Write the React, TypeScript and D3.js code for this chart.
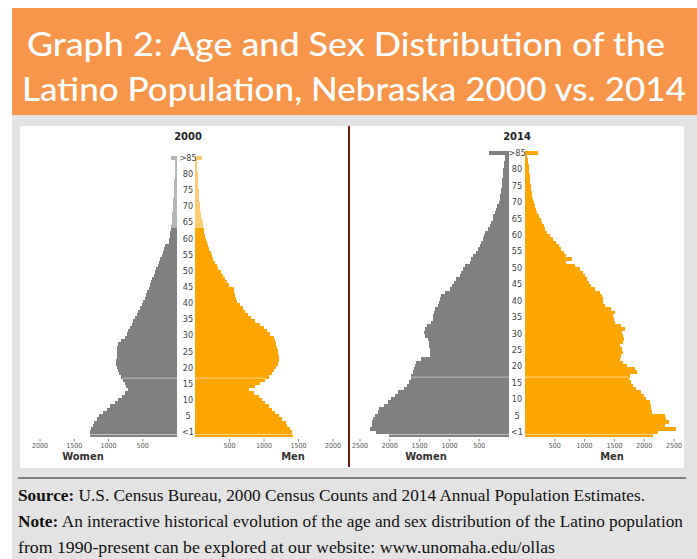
import React from "react";
import * as d3 from "d3";

const AGES = d3.range(0, 86);
const AGE_LABELS = ["<1", "5", "10", "15", "20", "25", "30", "35", "40", "45", "50", "55", "60", "65", "70", "75", "80", ">85"];

const WOMEN_2000 = [
  1275, 1268, 1258, 1230, 1205, 1170, 1142, 1083, 1025, 977,
  904, 855, 807, 758, 710, 744, 758, 792, 821, 846,
  865, 880, 885, 885, 880, 880, 880, 875, 855, 821,
  758, 733, 710, 685, 661, 637, 612, 588, 564, 540,
  515, 491, 472, 453, 434, 415, 396, 377, 358, 339,
  320, 300, 282, 263, 244, 225, 206, 188, 170, 120,
  110, 103, 97, 92, 82, 78, 74, 70, 67, 64,
  60, 57, 54, 51, 48, 45, 43, 41, 38, 35,
  32, 30, 28, 26, 24, 92,
];
const MEN_2000 = [
  1420, 1410, 1375, 1337, 1312, 1264, 1215, 1166, 1118, 1069,
  1020, 972, 923, 860, 778, 875, 948, 1020, 1069, 1118,
  1152, 1181, 1200, 1215, 1215, 1205, 1200, 1191, 1181, 1166,
  1152, 1094, 1045, 996, 938, 875, 812, 763, 729, 695,
  646, 608, 600, 580, 566, 559, 486, 462, 437, 404,
  375, 340, 316, 292, 267, 248, 228, 209, 190, 170,
  156, 146, 136, 126, 121, 112, 97, 90, 84, 78,
  72, 66, 62, 58, 55, 52, 49, 46, 43, 40,
  37, 34, 31, 28, 25, 97,
];
const WOMEN_2014 = [
  2019, 2226, 2338, 2299, 2299, 2282, 2243, 2198, 2187, 2098,
  2030, 1985, 1918, 1863, 1762, 1706, 1683, 1650, 1650, 1611,
  1594, 1583, 1555, 1482, 1331, 1331, 1331, 1342, 1342, 1359,
  1415, 1426, 1404, 1371, 1303, 1275, 1275, 1258, 1236, 1191,
  1180, 1163, 1135, 1079, 995, 956, 923, 884, 827, 800,
  772, 744, 660, 643, 604, 548, 520, 492, 464, 436,
  420, 397, 352, 324, 297, 268, 268, 240, 213, 196,
  173, 157, 146, 140, 129, 123, 117, 112, 106, 101,
  95, 90, 84, 73, 62, 341,
];
const MEN_2014 = [
  2148, 2232, 2539, 2354, 2411, 2371, 2354, 2131, 2120, 2109,
  2092, 2036, 1997, 1941, 1868, 1812, 1773, 1740, 1757, 1885,
  1851, 1717, 1645, 1589, 1606, 1645, 1628, 1589, 1645, 1656,
  1645, 1628, 1673, 1606, 1505, 1493, 1477, 1505, 1448, 1337,
  1309, 1309, 1292, 1253, 1169, 1113, 1069, 1046, 1012, 973,
  917, 833, 693, 789, 693, 654, 609, 565, 526, 470,
  414, 375, 341, 319, 291, 263, 229, 207, 190, 162,
  145, 134, 123, 117, 106, 95, 90, 84, 78, 73,
  67, 62, 56, 50, 39, 218,
];

const TICKS_2000 = [500, 1000, 1500, 2000];
const TICKS_2014 = [500, 1000, 1500, 2000, 2500];

const GRAY = "#808080";
const ORANGE = "#ffa500";
const GRAY_LIGHT = "#b5b5b5";
const ORANGE_LIGHT = "#ffcb70";
const NARROW = "'Liberation Sans Narrow', 'DejaVu Sans Condensed', 'Roboto Condensed', sans-serif";

interface PyramidProps {
  title: string;
  women: number[];
  men: number[];
  ticks: number[];
  max: number;
  cx: number;
  womenZero: number;
  womenMax: number;
  menZero: number;
  menMax: number;
  top: number;
  bottom: number;
  fadeFrom?: number;
  womenLabelX: number;
  menLabelX: number;
}

const Pyramid = (p: PyramidProps) => {
  const y = d3.scaleBand<number>().domain([...AGES].reverse()).range([p.top, p.bottom]).padding(0);
  const xw = d3.scaleLinear().domain([0, p.max]).range([p.womenZero, p.womenMax]);
  const xm = d3.scaleLinear().domain([0, p.max]).range([p.menZero, p.menMax]);
  const bw = y.bandwidth();
  const labelY = d3.scaleLinear()
    .domain([0, AGE_LABELS.length - 1])
    .range([y(1)! + bw / 2, y(85)! + bw / 2]);
  const fade = (a: number) => p.fadeFrom !== undefined && a >= p.fadeFrom;
  const axisY = p.bottom + 5;

  return (
    <g>
      <text x={p.cx} y={140} textAnchor="middle" fontFamily={NARROW} fontWeight="bold" fontSize={11} fill="#222">
        {p.title}
      </text>
      <g shapeRendering="crispEdges">
        {AGES.map((a) => (
          <rect key={"w" + a} x={xw(p.women[a])} y={y(a)} width={p.womenZero - xw(p.women[a])} height={bw + 0.4}
            fill={fade(a) ? GRAY_LIGHT : GRAY} />
        ))}
        {AGES.map((a) => (
          <rect key={"m" + a} x={p.menZero} y={y(a)} width={xm(p.men[a]) - p.menZero} height={bw + 0.4}
            fill={fade(a) ? ORANGE_LIGHT : ORANGE} />
        ))}
      </g>
      {/* faint highlight lines */}
      <line x1={xw(p.women[17])} x2={xm(p.men[17])} y1={y(17)!} y2={y(17)!} stroke="#fff" strokeOpacity={0.5} strokeWidth={1} />
      <line x1={xw(p.women[0])} x2={xm(p.men[0])} y1={y(0)! + 0.8} y2={y(0)! + 0.8} stroke="#fff" strokeOpacity={0.5} strokeWidth={1} />
      <rect x={p.womenZero} y={p.top - 2} width={p.menZero - p.womenZero} height={p.bottom - p.top + 4} fill="#fff" />
      {AGE_LABELS.map((l, i) => (
        <text key={l} x={p.cx} y={labelY(i)} dy="0.35em" textAnchor="middle" fontFamily={NARROW} fontSize={9} fill="#444">
          {l}
        </text>
      ))}
      {p.ticks.map((t) => (
        <g key={"tw" + t}>
          <line x1={xw(t)} x2={xw(t)} y1={axisY - 3} y2={axisY - 0.5} stroke="#666" strokeWidth={0.8} />
          <text x={xw(t)} y={axisY + 6} textAnchor="middle" fontFamily={NARROW} fontSize={7} fill="#555">{t}</text>
        </g>
      ))}
      {p.ticks.map((t) => (
        <g key={"tm" + t}>
          <line x1={xm(t)} x2={xm(t)} y1={axisY - 3} y2={axisY - 0.5} stroke="#666" strokeWidth={0.8} />
          <text x={xm(t)} y={axisY + 6} textAnchor="middle" fontFamily={NARROW} fontSize={7} fill="#555">{t}</text>
        </g>
      ))}
      <text x={p.womenLabelX} y={460} textAnchor="middle" fontFamily={NARROW} fontWeight="bold" fontSize={11} fill="#333">Women</text>
      <text x={p.menLabelX} y={460} textAnchor="middle" fontFamily={NARROW} fontWeight="bold" fontSize={11} fill="#333">Men</text>
    </g>
  );
};

export default function App() {
  return (
    <svg width={697} height={559} style={{ position: "absolute", left: 0, top: 0 }}>
      <rect x={0} y={0} width={697} height={559} fill="#fff" />
      <rect x={12} y={8} width={685} height={107} fill="#f7964a" />
      <rect x={12} y={115} width={685} height={444} fill="#e3e3e3" />
      <rect x={20} y={126} width={664} height={342} fill="#fff" />

      <text x={27} y={56} fill="#fff" fontFamily="Lato, 'Open Sans', sans-serif" fontWeight={500} fontSize={33}
        textLength={638} lengthAdjust="spacingAndGlyphs">
        Graph 2: Age and Sex Distribution of the
      </text>
      <text x={22} y={101} fill="#fff" fontFamily="Lato, 'Open Sans', sans-serif" fontWeight={500} fontSize={33}
        textLength={664} lengthAdjust="spacingAndGlyphs">
        Latino Population, Nebraska 2000 vs. 2014
      </text>

      <Pyramid title="2000" women={WOMEN_2000} men={MEN_2000} ticks={TICKS_2000} max={2000}
        cx={188} womenZero={177} womenMax={40} menZero={195} menMax={333} top={156} bottom={437}
        fadeFrom={64} womenLabelX={83} menLabelX={293} />
      <line x1={349} x2={349} y1={126} y2={467} stroke="#7a1a10" strokeWidth={2} />
      <Pyramid title="2014" women={WOMEN_2014} men={MEN_2014} ticks={TICKS_2014} max={2500}
        cx={517} womenZero={509} womenMax={360} menZero={525} menMax={674} top={151} bottom={437}
        womenLabelX={426} menLabelX={612} />

      <line x1={18} x2={686} y1={478} y2={478} stroke="#222" strokeWidth={1.2} />
      <g fontFamily="'Liberation Serif', 'Times New Roman', serif" fontSize={17} fill="#111">
        <text x={18} y={501} textLength={627} lengthAdjust="spacingAndGlyphs">
          <tspan fontWeight="bold">Source:</tspan> U.S. Census Bureau, 2000 Census Counts and 2014 Annual Population Estimates.
        </text>
        <text x={18} y={527} textLength={665} lengthAdjust="spacingAndGlyphs">
          <tspan fontWeight="bold">Note:</tspan> An interactive historical evolution of the age and sex distribution of the Latino population
        </text>
        <text x={18} y={553} textLength={537} lengthAdjust="spacingAndGlyphs">
          from 1990-present can be explored at our website: www.unomaha.edu/ollas
        </text>
      </g>
    </svg>
  );
}
